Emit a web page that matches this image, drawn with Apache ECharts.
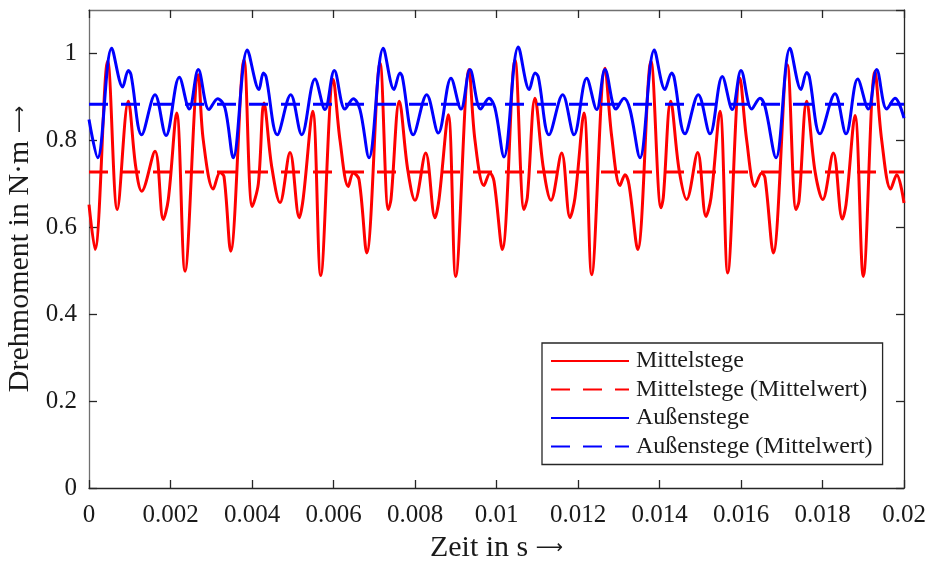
<!DOCTYPE html>
<html>
<head>
<meta charset="utf-8">
<script src="https://cdn.jsdelivr.net/npm/echarts@6/dist/echarts.min.js"></script>
<style>
  html, body { margin: 0; padding: 0; background: #fff; }
  #chart { width: 928px; height: 565px; }
</style>
</head>
<body>
<div id="chart"></div>
<script>
// Torque of the two rotor variants over one time window (s, N·m)
const timeMittel = [
  0, 0.000147, 0.000459, 0.000694, 0.000964, 0.001146, 0.001293, 0.001620, 0.001823, 0.001946,
  0.002152, 0.002356, 0.002682, 0.002805, 0.003050, 0.003215, 0.003313, 0.003477, 0.003804, 0.004007,
  0.004155, 0.004294, 0.004483, 0.004687, 0.004933, 0.005161, 0.005259, 0.005490, 0.005686, 0.005995,
  0.006160, 0.006363, 0.006486, 0.006626, 0.006815, 0.007141, 0.007345, 0.007411, 0.007615, 0.007821,
  0.008000, 0.008263, 0.008491, 0.008589, 0.008817, 0.008999, 0.009325, 0.009472, 0.009693, 0.009840,
  0.009939, 0.010142, 0.010454, 0.010675, 0.010756, 0.010945, 0.011149, 0.011337, 0.011600, 0.011804,
  0.011926, 0.012147, 0.012336, 0.012663, 0.012827, 0.013031, 0.013153, 0.013252, 0.013465, 0.013791,
  0.014037, 0.014093, 0.014275, 0.014479, 0.014667, 0.014937, 0.015141, 0.015264, 0.015485, 0.015674,
  0.015975, 0.016140, 0.016344, 0.016508, 0.016589, 0.016793, 0.017136, 0.017350, 0.017423, 0.017612,
  0.017816, 0.018005, 0.018265, 0.018486, 0.018577, 0.018798, 0.019001, 0.019288, 0.019453, 0.019673,
  0.019820, 0.020000
];
const torqueMittel = [
  0.652, 0.549, 0.982, 0.641, 0.890, 0.740, 0.683, 0.775, 0.618, 0.664,
  0.863, 0.499, 0.951, 0.800, 0.688, 0.726, 0.717, 0.545, 0.985, 0.648,
  0.700, 0.886, 0.740, 0.657, 0.772, 0.622, 0.668, 0.867, 0.489, 0.940,
  0.800, 0.694, 0.725, 0.710, 0.541, 0.978, 0.641, 0.664, 0.890, 0.733,
  0.662, 0.771, 0.622, 0.664, 0.859, 0.487, 0.963, 0.800, 0.696, 0.725,
  0.706, 0.549, 0.985, 0.641, 0.668, 0.897, 0.737, 0.662, 0.771, 0.622,
  0.668, 0.863, 0.491, 0.966, 0.809, 0.696, 0.721, 0.698, 0.549, 0.982,
  0.645, 0.668, 0.890, 0.733, 0.664, 0.772, 0.625, 0.668, 0.867, 0.495,
  0.943, 0.800, 0.694, 0.725, 0.714, 0.541, 0.974, 0.641, 0.660, 0.890,
  0.729, 0.664, 0.771, 0.619, 0.652, 0.857, 0.487, 0.959, 0.800, 0.688,
  0.721, 0.656
];
const timeAussen = [
  0, 0.000213, 0.000557, 0.000827, 0.000964, 0.001031, 0.001293, 0.001620, 0.001890, 0.002216,
  0.002461, 0.002682, 0.002945, 0.003158, 0.003337, 0.003541, 0.003885, 0.004172, 0.004277, 0.004344,
  0.004621, 0.004950, 0.005220, 0.005546, 0.005791, 0.006020, 0.006282, 0.006486, 0.006650, 0.006871,
  0.007222, 0.007485, 0.007632, 0.007688, 0.007958, 0.008287, 0.008572, 0.008883, 0.009129, 0.009350,
  0.009612, 0.009816, 0.009963, 0.010184, 0.010535, 0.010805, 0.010945, 0.011026, 0.011288, 0.011624,
  0.011902, 0.012213, 0.012459, 0.012663, 0.012933, 0.013129, 0.013276, 0.013521, 0.013872, 0.014135,
  0.014299, 0.014356, 0.014626, 0.014952, 0.015239, 0.015541, 0.015787, 0.016000, 0.016263, 0.016466,
  0.016589, 0.016859, 0.017202, 0.017472, 0.017612, 0.017676, 0.017939, 0.018307, 0.018577, 0.018864,
  0.019124, 0.019330, 0.019575, 0.019779, 0.020000
];
const torqueAussen = [
  0.848, 0.760, 1.012, 0.923, 0.961, 0.951, 0.813, 0.905, 0.811, 0.945,
  0.872, 0.963, 0.871, 0.896, 0.875, 0.760, 1.008, 0.917, 0.955, 0.947,
  0.813, 0.905, 0.813, 0.941, 0.871, 0.961, 0.872, 0.896, 0.871, 0.760,
  1.012, 0.917, 0.955, 0.947, 0.813, 0.905, 0.817, 0.943, 0.872, 0.963,
  0.872, 0.897, 0.874, 0.762, 1.015, 0.917, 0.955, 0.946, 0.813, 0.905,
  0.813, 0.943, 0.871, 0.963, 0.872, 0.897, 0.871, 0.760, 1.008, 0.917,
  0.955, 0.946, 0.815, 0.905, 0.815, 0.947, 0.871, 0.961, 0.872, 0.897,
  0.878, 0.760, 1.012, 0.917, 0.956, 0.947, 0.815, 0.907, 0.815, 0.941,
  0.872, 0.963, 0.872, 0.897, 0.851
];
const meanMittel = 0.727;
const meanAussen = 0.883;
const timeRange = [0, 0.02];
const names = ['Mittelstege', 'Mittelstege (Mittelwert)', 'Außenstege', 'Außenstege (Mittelwert)'];

const zip = (xs, ys) => xs.map((x, i) => [x, ys[i]]);
const flat = v => timeRange.map(t => [t, v]);

const FONT = "'Liberation Serif', 'Times New Roman', serif";
const AXIS = '#262626';
const TEXT = '#1a1a1a';
const RED = '#ff0000';
const BLUE = '#0000ff';
const DASH = [19, 13];
const LW = 3;

const fmt = v => String(parseFloat(v.toFixed(4)));
const nameStyle = {
  fontFamily: FONT, fontSize: 30, color: TEXT,
  rich: { arr: { fontFamily: 'DejaVu Sans', fontSize: 19, color: TEXT } }
};

const chart = echarts.init(document.getElementById('chart'), null, { renderer: 'canvas' });
chart.setOption({
  animation: false,
  backgroundColor: '#fff',
  grid: { left: 89, right: 24, top: 10, bottom: 77, containLabel: false, outerBoundsMode: 'none' },
  xAxis: [{
    type: 'value', min: 0, max: 0.02, interval: 0.002,
    name: 'Zeit in s {arr|⟶}', nameLocation: 'middle', nameGap: 42,
    nameTextStyle: nameStyle,
    axisLine: { show: true, onZero: false, lineStyle: { color: AXIS, width: 1.3 } },
    axisTick: { show: true, inside: true, length: 8, lineStyle: { color: AXIS, width: 1.3 } },
    axisLabel: { fontFamily: FONT, fontSize: 25, color: TEXT, margin: 15, formatter: fmt },
    splitLine: { show: false }
  }, {
    type: 'value', position: 'top', min: 0, max: 0.02, interval: 0.002,
    axisLine: { show: true, onZero: false, lineStyle: { color: '#707070', width: 1.3 } },
    axisTick: { show: true, inside: true, length: 8, lineStyle: { color: AXIS, width: 1.3 } },
    axisLabel: { show: false }, splitLine: { show: false }
  }],
  yAxis: [{
    type: 'value', min: 0, max: 1.1, interval: 0.2,
    name: 'Drehmoment in N·m {arr|⟶}', nameLocation: 'middle', nameGap: 47,
    nameTextStyle: nameStyle,
    axisLine: { show: true, onZero: false, lineStyle: { color: '#707070', width: 1.3 } },
    axisTick: { show: true, inside: true, length: 8, lineStyle: { color: AXIS, width: 1.3 } },
    axisLabel: { fontFamily: FONT, fontSize: 25, color: TEXT, margin: 12, showMaxLabel: false, formatter: fmt },
    splitLine: { show: false }
  }, {
    type: 'value', position: 'right', min: 0, max: 1.1, interval: 0.2,
    axisLine: { show: true, onZero: false, lineStyle: { color: AXIS, width: 1.3 } },
    axisTick: { show: true, inside: true, length: 8, lineStyle: { color: AXIS, width: 1.3 } },
    axisLabel: { show: false }, splitLine: { show: false }
  }],
  legend: {
    data: names,
    orient: 'vertical',
    left: 542, top: 343,
    backgroundColor: '#fff',
    borderColor: AXIS, borderWidth: 1.3,
    padding: [6, 10, 6, 8],
    itemWidth: 78, itemHeight: 14, itemGap: 4.5,
    itemStyle: { opacity: 0 },
    textStyle: { fontFamily: FONT, fontSize: 24, color: TEXT, padding: [0, 0, 0, 2] }
  },
  series: [{
    name: names[0], type: 'line', data: zip(timeMittel, torqueMittel),
    showSymbol: false, symbol: 'none', smooth: 0.35,
    lineStyle: { color: RED, width: LW }, itemStyle: { color: RED }
  }, {
    name: names[1], type: 'line', data: flat(meanMittel),
    showSymbol: false, symbol: 'none',
    lineStyle: { color: RED, width: LW, type: DASH }, itemStyle: { color: RED }
  }, {
    name: names[2], type: 'line', data: zip(timeAussen, torqueAussen),
    showSymbol: false, symbol: 'none', smooth: 0.35,
    lineStyle: { color: BLUE, width: LW }, itemStyle: { color: BLUE }
  }, {
    name: names[3], type: 'line', data: flat(meanAussen),
    showSymbol: false, symbol: 'none',
    lineStyle: { color: BLUE, width: LW, type: DASH }, itemStyle: { color: BLUE }
  }]
});
</script>
</body>
</html>
